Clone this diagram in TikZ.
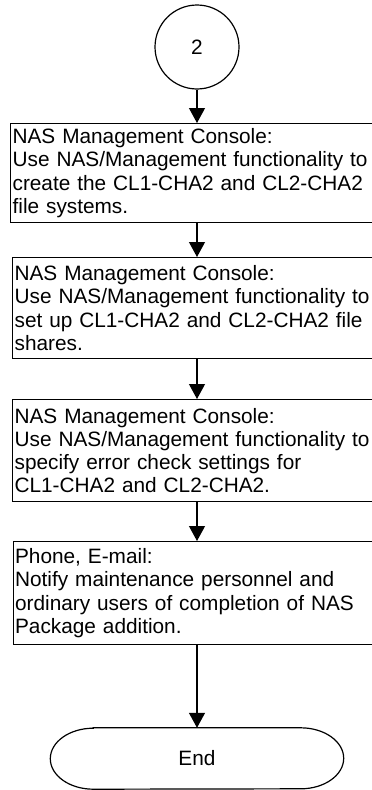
\documentclass[tikz,border=0pt]{standalone}
\usepackage{fontspec}
\setmainfont{Liberation Sans}
\usetikzlibrary{arrows.meta,positioning}

\begin{document}
\begin{tikzpicture}[x=1pt,y=-1pt,
  stepbox/.style={draw,line width=1.2pt,anchor=north west,minimum width=363pt,minimum height=101pt,text width=359pt,inner xsep=2pt,inner ysep=0pt,align=left,font=\fontsize{20.8}{23.3}\selectfont},
  connector/.style={draw,circle,line width=1.2pt,minimum size=84pt,font=\fontsize{20.8}{23.3}\selectfont},
  flow/.style={-{Triangle[width=16pt,length=15pt]},line width=1.2pt}]
  \useasboundingbox (0,0) rectangle (372,790);
  % Connector
  \node[connector] (conn2) at (197,47) {2};
  % Steps
  \node[stepbox,minimum height=99pt] (s1) at (10,123) {NAS Management Console:\\Use NAS/Management functionality to\\create the CL1-CHA2 and CL2-CHA2\\file systems.};
  \node[stepbox] (s2) at (12,257) {NAS Management Console:\\Use NAS/Management functionality to\\set up CL1-CHA2 and CL2-CHA2 file\\shares.};
  \node[stepbox,minimum height=102pt] (s3) at (12,399) {NAS Management Console:\\Use NAS/Management functionality to\\specify error check settings for\\CL1-CHA2 and CL2-CHA2.};
  \node[stepbox,minimum height=103pt] (s4) at (12.5,541) {Phone, E-mail:\\Notify maintenance personnel and\\ordinary users of completion of NAS\\Package addition.};
  % Terminator
  \node[minimum width=293pt,minimum height=61pt,inner sep=0pt,font=\fontsize{20.8}{23.3}\selectfont] (endterm) at (197,758.5) {End};
  \draw[line width=1.2pt] ([xshift=43pt]endterm.north west) -- ([xshift=-43pt]endterm.north east)
    arc[start angle=90,end angle=-90,x radius=43pt,y radius=30.5pt]
    -- ([xshift=43pt]endterm.south west)
    arc[start angle=270,end angle=90,x radius=43pt,y radius=30.5pt] -- cycle;
  % Arrows
  \draw[flow] (conn2.south) -- (conn2.south |- s1.north);
  \draw[flow] (conn2.south |- s1.south) -- (conn2.south |- s2.north);
  \draw[flow] (conn2.south |- s2.south) -- (conn2.south |- s3.north);
  \draw[flow] (conn2.south |- s3.south) -- (conn2.south |- s4.north);
  \draw[flow] (endterm.north |- s4.south) -- (endterm.north);
\end{tikzpicture}
\end{document}
